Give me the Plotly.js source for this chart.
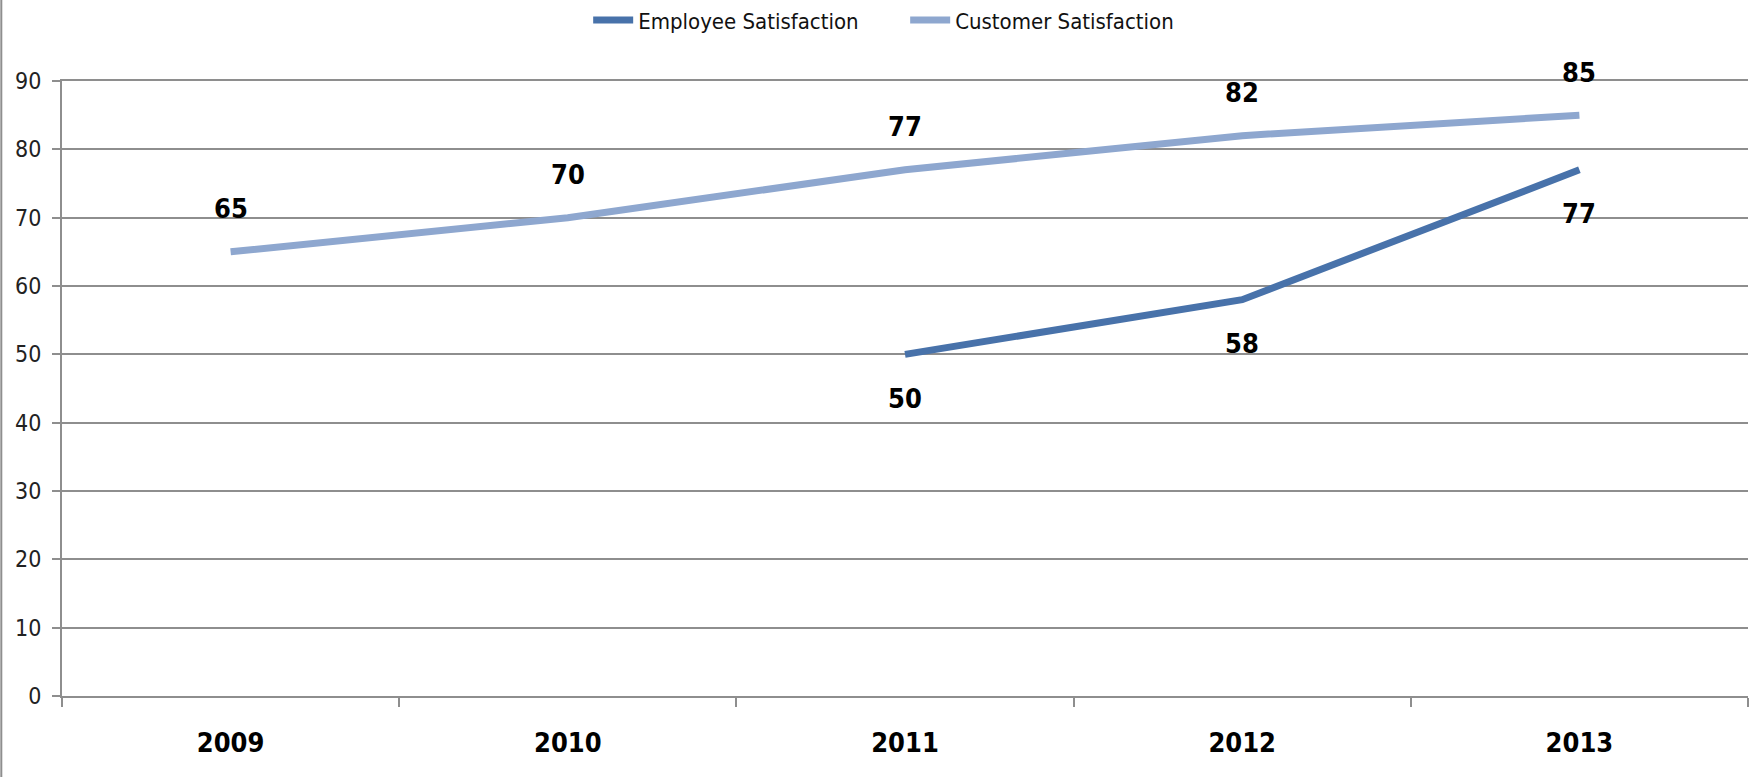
<!DOCTYPE html>
<html>
<head>
<meta charset="utf-8">
<script src="https://cdn.plot.ly/plotly-3.0.1.min.js"></script>
<style>html,body{margin:0;padding:0;background:#fff;}#chart{width:1761px;height:777px;}</style>
</head>
<body>
<div id="chart"></div>
<script>
const years = ['2009', '2010', '2011', '2012', '2013'];
const employeeSatisfaction = [null, null, 50, 58, 77];
const customerSatisfaction = [65, 70, 77, 82, 85];
const yTicks = [0, 10, 20, 30, 40, 50, 60, 70, 80, 90];

const FONT = '"Liberation Sans Narrow", "DejaVu Sans Condensed", "Arial Narrow", sans-serif';
const GRID = '#8e8e8e';

const traces = [
  {
    type: 'scatter', mode: 'lines', name: 'Employee Satisfaction',
    x: years, y: employeeSatisfaction,
    line: {color: '#4872aa', width: 7}, connectgaps: false
  },
  {
    type: 'scatter', mode: 'lines', name: 'Customer Satisfaction',
    x: years, y: customerSatisfaction,
    line: {color: '#8ea7cf', width: 7}
  }
];

const annotations = [];
function addLabels(vals, shift) {
  vals.forEach((v, i) => {
    if (v === null) return;
    annotations.push({
      x: i, y: v, xref: 'x', yref: 'y', text: '<b>' + v + '</b>',
      showarrow: false, yshift: shift, xanchor: 'center', yanchor: 'middle',
      font: {family: FONT, size: 27, color: '#000'}
    });
  });
}
addLabels(customerSatisfaction, 43);
addLabels(employeeSatisfaction, -44);

const layout = {
  width: 1761, height: 777,
  margin: {l: 62, r: 13, t: 81, b: 81, autoexpand: false},
  paper_bgcolor: '#fff', plot_bgcolor: '#fff',
  font: {family: FONT, color: '#222'},
  showlegend: true,
  legend: {
    orientation: 'h', xref: 'container', yref: 'container',
    x: 0.334, xanchor: 'left', y: 0.974, yanchor: 'middle',
    font: {family: FONT, size: 22, color: '#111'}, itemwidth: 40,
    entrywidth: 262, entrywidthmode: 'pixels', tracegroupgap: 0
  },
  xaxis: {
    type: 'category', range: [-0.5, 4.5], tickvals: years, ticktext: years,
    tickson: 'boundaries', ticks: 'outside', ticklen: 9, tickwidth: 2, tickcolor: GRID,
    showgrid: false, showline: true, mirror: true, linecolor: GRID, linewidth: 2,
    tickfont: {family: FONT, size: 27, color: '#000', weight: 'bold'},
    ticklabelstandoff: 22, zeroline: false, fixedrange: true
  },
  yaxis: {
    range: [0, 90], tickvals: yTicks, ticks: 'outside', ticklen: 8, tickwidth: 2, tickcolor: GRID,
    showgrid: true, gridcolor: GRID, gridwidth: 2,
    showline: true, linecolor: GRID, linewidth: 2, zeroline: false,
    tickfont: {family: FONT, size: 23, color: '#222'}, ticklabelstandoff: 6, fixedrange: true
  },
  annotations: annotations,
  shapes: [{
    type: 'line', xref: 'paper', yref: 'paper',
    x0: -0.036, x1: -0.036, y0: -0.14, y1: 1.14,
    line: {color: GRID, width: 2}
  }]
};

Plotly.newPlot('chart', traces, layout, {displayModeBar: false, staticPlot: true});
</script>
</body>
</html>
